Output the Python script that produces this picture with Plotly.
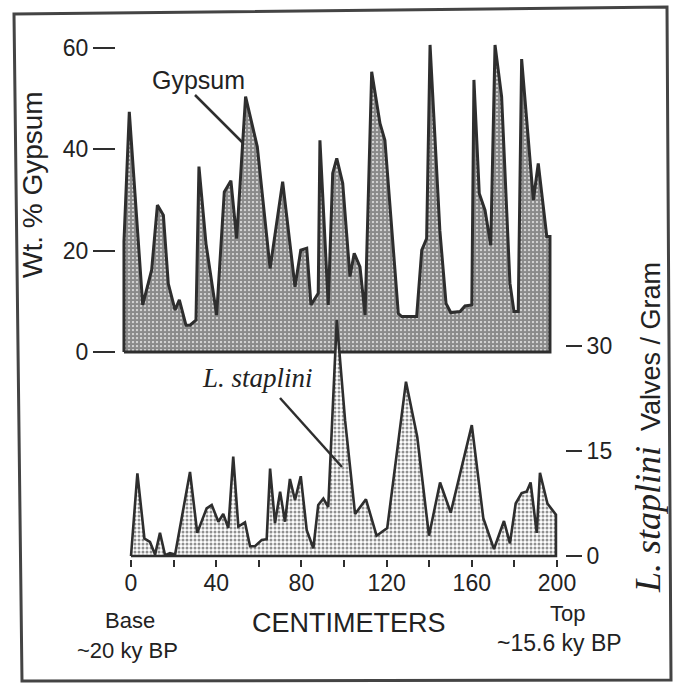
import plotly.graph_objects as go

W, H = 674, 683          # target picture size
PAGE_W = 690             # page width that the photographed viewport spans horizontally

# ---- data ----
gyp_cm = [-3.3, -3.3, -0.8, 5.5, 9.7, 12.4, 15.2, 17.5, 20.7, 22.7, 25.8, 27.7, 30.5, 31.9, 35.2,
          40.2, 43.8, 46.9, 49.6, 53.8, 59.3, 65.3, 71.2, 77.0, 79.7, 82.5, 84.5, 87.9, 88.7, 92.6,
          94.7, 96.6, 99.4, 102.8, 104.8, 107.5, 109.9, 113.0, 116.9, 119.2, 125.5, 127.1, 134.1, 136.5, 138.8,
          140.4, 145.0, 147.9, 150.1, 154.5, 156.8, 160.0, 161.0, 163.5, 166.2, 168.9, 170.9, 174.0, 177.9, 179.8,
          181.8, 183.4, 188.9, 191.2, 195.2, 196.7, 196.7]
gyp_pct = [0, 21.8, 47.4, 9.3, 16.2, 29, 27, 13.5, 8.3, 10.3, 5.3, 5.3, 6.3, 36.6, 21.4,
           7.3, 31.6, 33.8, 22.4, 50.4, 40.5, 16.5, 33.6, 12.9, 20.1, 20.5, 9.3, 11.6, 41.8, 9.3,
           35.3, 38.2, 33.3, 14.9, 19.5, 16.8, 7.3, 55.3, 45.1, 41.8, 7.6, 7.0, 7.0, 20.1, 22.4,
           60.6, 24, 9.6, 7.8, 8.0, 9.1, 9.3, 53.7, 31.3, 28, 21.1, 60.6, 50.4, 13.6, 8.0,
           8.0, 57.8, 30, 37.2, 22.8, 22.8, 0]

sta_cm = [0, 3.0, 6.3, 8.9, 11.3, 13.6, 16.0, 18.3, 20.7, 27.7, 31.1, 35.5, 37.9, 41.0, 43.3,
          45.7, 48.0, 50.4, 53.5, 55.9, 58.2, 61.4, 63.7, 65.3, 67.6, 70.0, 72.3, 74.6, 77.0, 79.7,
          82.5, 85.6, 87.9, 90.3, 92.6, 96.6, 100.5, 105.2, 110.3, 115.3, 120.3, 129.1, 134.4, 139.9, 145.1,
          150.1, 160.0, 165.4, 170.4, 175.1, 177.9, 180.6, 183.4, 185.8, 187.6, 190.5, 192.0, 195.5, 199.5, 199.5]
sta_val = [0, 11.8, 2.5, 2.0, 0.2, 3.3, 0.1, 0.4, 0.2, 12.0, 3.3, 6.8, 7.3, 4.9, 6.0,
           4.0, 14.2, 4.2, 4.8, 1.4, 1.4, 2.3, 2.4, 12.5, 4.7, 9.2, 4.9, 11.0, 8.0, 11.4,
           3.7, 1.1, 7.3, 8.2, 7.0, 33.7, 19.4, 6.0, 8.1, 2.9, 4.0, 24.9, 17.0, 2.9, 10.5,
           6.2, 18.7, 5.4, 1.0, 5.0, 1.8, 7.5, 9.0, 9.2, 10.5, 3.3, 11.9, 7.5, 5.9, 0]

x_ticks = [0, 20, 40, 60, 80, 100, 120, 140, 160, 180, 200]
x_ticktext = ["0", "", "40", "", "80", "", "120", "", "160", "", "200"]
gyp_ticks = [0, 20, 40, 60]
sta_ticks = [0, 15, 30]


def fx(px):
    return px / W


def fy(py):
    return 1 - py / H


INK = "#2e2e2e"
SANS = "Liberation Sans, Arial, sans-serif"
SERIF = "Liberation Serif, Times New Roman, serif"

fig = go.Figure()

fig.add_trace(go.Scatter(
    x=gyp_cm + [gyp_cm[0]], y=gyp_pct + [gyp_pct[0]],
    mode="lines", fill="toself",
    line=dict(color=INK, width=3),
    fillcolor="rgba(0,0,0,0)",
    fillpattern=dict(shape=".", fgcolor="#151515", bgcolor="white", size=4, solidity=0.8),
    xaxis="x", yaxis="y", hoverinfo="skip"))

fig.add_trace(go.Scatter(
    x=sta_cm + [sta_cm[0]], y=sta_val + [sta_val[0]],
    mode="lines", fill="toself",
    line=dict(color=INK, width=2.6),
    fillcolor="rgba(0,0,0,0)",
    fillpattern=dict(shape=".", fgcolor="#222", bgcolor="white", size=4, solidity=0.45),
    xaxis="x", yaxis="y2", hoverinfo="skip"))

px_per_cm = 2.13
x0_px = 131
TICKFONT = dict(size=23, family=SANS, color="#222")

fig.update_layout(
    width=PAGE_W, height=H, autosize=False,
    margin=dict(l=0, r=0, t=0, b=0),
    paper_bgcolor="white", plot_bgcolor="rgba(0,0,0,0)",
    showlegend=False,
    font=dict(family=SANS, color="#222"),
    xaxis=dict(domain=[fx(117), fx(560)],
               range=[(117 - x0_px) / px_per_cm, (560 - x0_px) / px_per_cm],
               anchor="free", position=fy(559),
               tickmode="array", tickvals=x_ticks, ticktext=x_ticktext,
               ticks="outside", ticklen=7, tickwidth=2, tickcolor=INK,
               ticklabelstandoff=-4,
               tickfont=TICKFONT,
               showgrid=False, zeroline=False, showline=False),
    yaxis=dict(domain=[fy(570), fy(30)], range=[-43.0, 63.55],
               anchor="free", position=fx(115),
               tickmode="array", tickvals=gyp_ticks,
               ticks="outside", ticklen=22, tickwidth=2, tickcolor=INK,
               tickfont=TICKFONT,
               showgrid=False, zeroline=False, showline=False),
    yaxis2=dict(domain=[fy(570), fy(30)], range=[-2.0, 75.14],
                overlaying="y", side="right",
                anchor="free", position=fx(565),
                tickmode="array", tickvals=sta_ticks,
                ticks="outside", ticklen=16, tickwidth=2, tickcolor=INK,
                tickfont=TICKFONT,
                showgrid=False, zeroline=False, showline=False),
)

ann = [
    dict(x=fx(198), y=fy(80), text="Gypsum", font=dict(size=25, family=SANS)),
    dict(x=fx(257), y=fy(378), text="<i>L. staplini</i>", font=dict(size=27, family=SERIF)),
    dict(x=fx(33), y=fy(185), text="Wt. % Gypsum", textangle=-90, font=dict(size=28, family=SANS)),
    dict(x=fx(648), y=fy(428),
         text="<span style='font-family:Liberation Serif;font-size:36px'><i>L. staplini</i></span>  Valves / Gram",
         textangle=-90, font=dict(size=27, family=SANS)),
    dict(x=fx(130), y=fy(620), text="Base", font=dict(size=22, family=SANS)),
    dict(x=fx(127), y=fy(650), text="~20 ky BP", font=dict(size=22, family=SANS)),
    dict(x=fx(349), y=fy(623), text="CENTIMETERS", font=dict(size=27, family=SANS)),
    dict(x=fx(567), y=fy(613), text="Top", font=dict(size=22, family=SANS)),
    dict(x=fx(559), y=fy(643), text="~15.6 ky BP", font=dict(size=23, family=SANS)),
]
for a in ann:
    a.update(xref="paper", yref="paper", showarrow=False, xanchor="center", yanchor="middle")
    a["font"]["color"] = "#222"
fig.update_layout(annotations=ann)

shapes = [
    dict(type="line", xref="paper", yref="paper", x0=fx(195), y0=fy(95), x1=fx(243), y1=fy(143),
         line=dict(color=INK, width=2.5)),
    dict(type="line", xref="paper", yref="paper", x0=fx(280), y0=fy(398), x1=fx(342), y1=fy(467),
         line=dict(color=INK, width=2.5)),
    dict(type="path", xref="paper", yref="paper",
         path=f"M {fx(14)} {fy(14)} L {fx(667)} {fy(7)} L {fx(671)} {fy(680)} L {fx(22)} {fy(681)} Z",
         line=dict(color="#444", width=3)),
]
fig.update_layout(shapes=shapes)

fig.write_html("out.html",
               config={"displayModeBar": False, "responsive": False},
               post_script="document.body.style.margin='0';document.body.style.overflow='hidden';")
